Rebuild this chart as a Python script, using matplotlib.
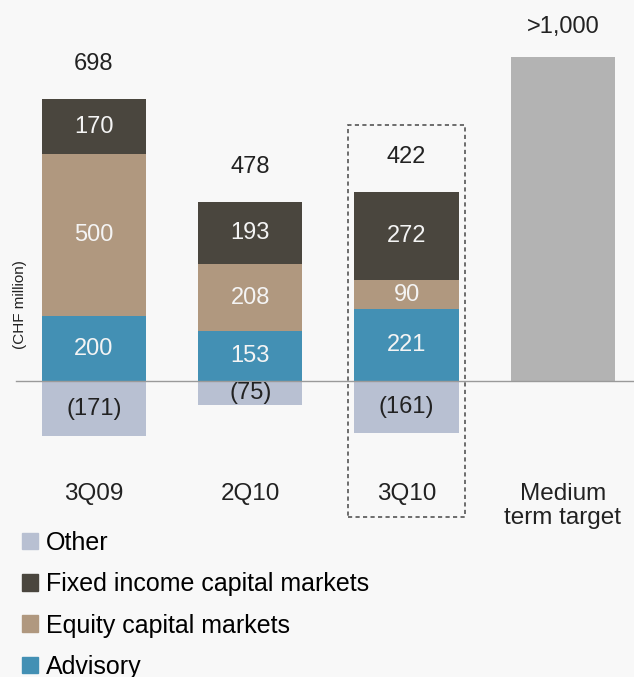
import matplotlib
matplotlib.use("Agg")
import matplotlib.pyplot as plt
from matplotlib.patches import Patch, Rectangle
from matplotlib.transforms import blended_transform_factory

# values in CHF million
categories = ["3Q09", "2Q10", "3Q10"]
advisory = [200, 153, 221]
equity = [500, 208, 90]
fixed_income = [170, 193, 272]
other = [-171, -75, -161]
totals = ["698", "478", "422"]
target_value = 1000
target_label = ">1,000"
target_name = "Medium\nterm target"

legend_names = ["Other", "Fixed income capital markets", "Equity capital markets", "Advisory"]

c_adv = "#4390b4"
c_eq = "#b0987f"
c_fi = "#4a463e"
c_oth = "#b8c0d2"
c_tgt = "#b3b3b3"
bg = "#f8f8f8"

plt.rcParams["font.family"] = ["Liberation Sans", "DejaVu Sans"]

fig = plt.figure(figsize=(6.34, 6.77), dpi=100, facecolor=bg)
ax = fig.add_axes([0, 0, 1, 1])
ax.set_facecolor(bg)
ax.set_xlim(-0.601, 3.455)
ax.set_ylim(-913.6, 1176)
ax.axis("off")

w = 0.668
x = list(range(len(categories)))

b_adv = ax.bar(x, advisory, w, color=c_adv)
b_eq = ax.bar(x, equity, w, bottom=advisory, color=c_eq)
bottom_fi = [a + e for a, e in zip(advisory, equity)]
b_fi = ax.bar(x, fixed_income, w, bottom=bottom_fi, color=c_fi)
b_oth = ax.bar(x, other, w, color=c_oth)
ax.bar(len(categories), target_value, w, color=c_tgt)

ax.axhline(0, xmin=16 / 634, color="#9a9a9a", lw=1, zorder=3)

fs = 17
fs_txt = 17.5
# labels inside the segments
for bars, vals in [(b_adv, advisory), (b_eq, equity), (b_fi, fixed_income)]:
    for b, v in zip(bars, vals):
        ax.text(b.get_x() + b.get_width() / 2, b.get_y() + b.get_height() / 2, str(v),
                ha="center", va="center", color="#f4f4f4", fontsize=fs)
for b, v in zip(b_oth, other):
    ax.text(b.get_x() + b.get_width() / 2, b.get_y() + b.get_height() / 2, "(%d)" % -v,
            ha="center", va="center", color="#222222", fontsize=fs, zorder=4)

# totals above bars
for i, t in enumerate(totals):
    top = advisory[i] + equity[i] + fixed_income[i]
    ax.annotate(t, (i, top), xytext=(0, 25), textcoords="offset points",
                ha="center", va="center", fontsize=fs, color="#222222")
ax.annotate(target_label, (len(categories), target_value), xytext=(0, 21.5),
            textcoords="offset points", ha="center", va="center", fontsize=fs, color="#222222")

# category names under the axis
trans = blended_transform_factory(ax.transData, fig.transFigure)
for i, c in enumerate(categories):
    ax.text(i, 1 - 494 / 677, c, transform=trans, ha="center", va="center",
            fontsize=fs_txt, color="#222222")
ax.text(len(categories), 1 - 506 / 677, target_name, transform=trans, ha="center",
        va="center", fontsize=fs_txt, color="#222222", linespacing=1.12)

# dashed box round the current quarter
ax.add_patch(Rectangle((2 - 0.373, -420), 0.746, 1210, fill=False, ec="#555555",
                       lw=1.2, ls=(0, (2.5, 2)), zorder=5))

fig.text(20 / 634, 1 - 305 / 677, "(CHF million)", rotation=90, ha="center", va="center",
         fontsize=11, color="#222222")

handles = [Patch(color=c) for c in [c_oth, c_fi, c_eq, c_adv]]
fig.legend(handles, legend_names, loc="upper left", bbox_to_anchor=(22 / 634, 1 - 531 / 677),
           frameon=False, fontsize=18, borderpad=0, borderaxespad=0, handlelength=0.64,
           handleheight=0.64, handletextpad=0.31, labelspacing=0.69)

fig.savefig("out.png", dpi=100, facecolor=bg)
